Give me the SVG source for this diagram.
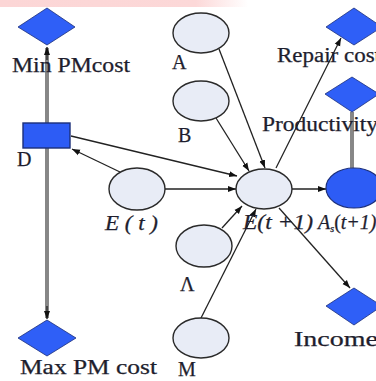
<svg xmlns="http://www.w3.org/2000/svg" width="376" height="381" viewBox="0 0 376 381">
<style>
.ell{fill:#e8ecf6;stroke:#2a2a2a;stroke-width:1.4}
.blue{fill:#2d5cf5;stroke:#1c2f7a;stroke-width:1.2}
.dia{fill:#2f5ff7;stroke:#1c2f7a;stroke-width:0.8}
.ln{stroke:#222;stroke-width:1.3;fill:none}
.gout{stroke:#555;stroke-width:3.4;fill:none}
.gin{stroke:#a8a8a8;stroke-width:1.2;fill:none}
.t{font-family:"Liberation Serif","Times New Roman",serif;font-size:20px;fill:#1e1e2e;stroke:#1e1e2e;stroke-width:0.25}
.it{font-style:italic}
</style>
<defs>
<linearGradient id="pink" x1="0" x2="1" y1="0" y2="0">
<stop offset="0" stop-color="#fcd6d6"/>
<stop offset="0.52" stop-color="#fcd8d8"/>
<stop offset="0.66" stop-color="#ffffff"/>
<stop offset="1" stop-color="#ffffff"/>
</linearGradient>
<marker id="arr" markerUnits="userSpaceOnUse" markerWidth="9" markerHeight="7" refX="8" refY="3" orient="auto-start-reverse" viewBox="0 0 9 6">
<path d="M0,0 L8,3 L0,6 z" fill="#111"/>
</marker>
</defs>
<rect x="0" y="0" width="376" height="7" fill="url(#pink)"/>
<g id="connectors">
<path class="gout" d="M47,48 L47,318"/>
<path class="gin" d="M47,48 L47,318"/>
<path class="ln" d="M47,60 L47,47" marker-end="url(#arr)"/>
<path class="ln" d="M47,306 L47,319" marker-end="url(#arr)"/>
<path class="gout" d="M352,168 L352,112"/>
<path class="gin" d="M352,168 L352,112"/>
<path class="ln" d="M71,136 L237,176" marker-end="url(#arr)"/>
<path class="ln" d="M120,172 L72,149" marker-end="url(#arr)"/>
<path class="ln" d="M165,189 L236,189" marker-end="url(#arr)"/>
<path class="ln" d="M219,49 L265,168" marker-end="url(#arr)"/>
<path class="ln" d="M216,118 L249,171" marker-end="url(#arr)"/>
<path class="ln" d="M222,228 L242,206" marker-end="url(#arr)"/>
<path class="ln" d="M201,318 L256,209" marker-end="url(#arr)"/>
<path class="ln" d="M276,168 L341,38" marker-end="url(#arr)"/>
<path class="ln" d="M292,189 L326,189" marker-end="url(#arr)"/>
<path class="ln" d="M279,208 L350,288" marker-end="url(#arr)"/>
</g>
<g id="minpm">
<polygon class="dia" points="47,8 75,27 47,45 18,27"/>
<text class="t" x="12" y="72" textLength="118" lengthAdjust="spacingAndGlyphs">Min PMcost</text>
</g>
<g id="maxpm">
<polygon class="dia" points="47,320 76,338 47,356 18,338"/>
<text class="t" x="20" y="374" textLength="137" lengthAdjust="spacingAndGlyphs">Max PM cost</text>
</g>
<g id="D">
<rect x="23" y="123" width="47" height="25" fill="#2d5cf5" stroke="#1c2f7a" stroke-width="1.4"/>
<text class="t" x="17" y="166" font-size="17" fill="#2a2050">D</text>
</g>
<g id="Et">
<ellipse class="ell" cx="137" cy="189" rx="28" ry="21"/>
<text class="t it" x="105" y="230" textLength="53" lengthAdjust="spacingAndGlyphs">E ( t )</text>
</g>
<g id="A">
<ellipse class="ell" cx="201" cy="33" rx="28" ry="20"/>
<text class="t" x="172" y="69">A</text>
</g>
<g id="B">
<ellipse class="ell" cx="201" cy="101" rx="28" ry="20"/>
<text class="t" x="178" y="142">B</text>
</g>
<g id="Lambda">
<ellipse class="ell" cx="204" cy="246" rx="28" ry="21"/>
<text class="t" x="180" y="291">Λ</text>
</g>
<g id="M">
<ellipse class="ell" cx="201" cy="338" rx="28" ry="20"/>
<text class="t" x="178" y="376" font-size="17">M</text>
</g>
<g id="Et1">
<ellipse class="ell" cx="264" cy="189" rx="28" ry="20"/>
<text class="t it" x="243" y="229" textLength="70" lengthAdjust="spacingAndGlyphs">E(t +1)</text>
</g>
<g id="As">
<ellipse class="blue" cx="354" cy="188" rx="28" ry="20"/>
<text class="t it" x="318" y="229" font-size="16">A<tspan font-size="10" dy="3">s</tspan><tspan dy="-3" font-style="normal">(</tspan>t+1)</text>
</g>
<g id="repair">
<polygon class="dia" points="354,8 382,27 354,45 326,27"/>
<text class="t" x="277" y="62" textLength="104" lengthAdjust="spacingAndGlyphs">Repair cost</text>
</g>
<g id="productivity">
<polygon class="dia" points="352,77 379,94 352,112 325,94"/>
<text class="t" x="262" y="131" textLength="116" lengthAdjust="spacingAndGlyphs">Productivity</text>
</g>
<g id="income">
<polygon class="dia" points="354,288 382,306 354,325 326,306"/>
<text class="t" x="294" y="346" textLength="84" lengthAdjust="spacingAndGlyphs">Income</text>
</g>
</svg>
